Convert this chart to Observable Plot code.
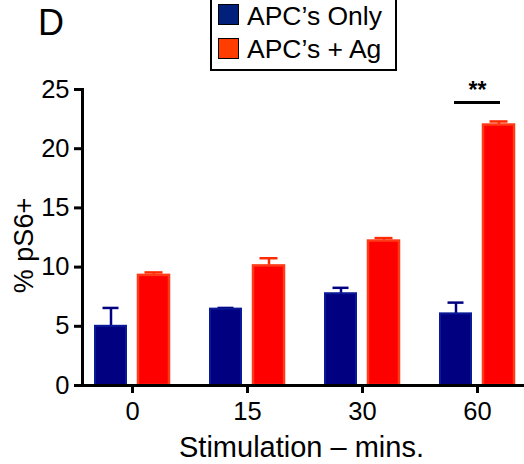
<!DOCTYPE html>
<html>
<head>
<meta charset="utf-8">
<script src="https://cdn.jsdelivr.net/npm/d3@7"></script>
<script src="https://cdn.jsdelivr.net/npm/@observablehq/plot@0.6"></script>
<style>
  html, body { margin: 0; padding: 0; background: #fff; }
  #wrap { position: relative; width: 524px; height: 464px; overflow: hidden; font-family: "Liberation Sans", Arial, sans-serif; color: #000; }
  #chart { position: absolute; left: 0; top: 0; }
  .abs { position: absolute; line-height: 1; white-space: nowrap; }
  .sw { position: absolute; width: 19px; height: 19px; border: 1.5px solid #000; }
</style>
</head>
<body>
<div id="wrap">
  <div id="chart"></div>
  <div class="abs" style="left:38px; top:5px; font-size:36px;">D</div>
  <div class="abs" id="legend" style="left:210px; top:-6px; width:183px; height:73px; border:2px solid #000; background:#fff;"></div>
</div>
<script>
// ---- data ----
const times = ["0", "15", "30", "60"];
const apcOnly = [5.0, 6.45, 7.75, 6.05];
const apcOnlyErr = [1.55, 0.1, 0.5, 0.95];
const apcAg = [9.3, 10.1, 12.2, 22.0];
const apcAgErr = [0.25, 0.65, 0.25, 0.3];
const yTicks = [0, 5, 10, 15, 20, 25];
const seriesNames = ["APC’s Only", "APC’s + Ag"];
const seriesColors = ["#000080", "#ff0000"];
const legendColors = ["#00207c", "#ff3d00"];
const sigLabel = "**";
const sigTime = "60";
const sigY = 23.9;
const xTitle = "Stimulation – mins.";
const yTitle = "% pS6+";

const only = times.map((t, i) => ({time: t, value: apcOnly[i], err: apcOnlyErr[i]}));
const ag = times.map((t, i) => ({time: t, value: apcAg[i], err: apcAgErr[i]}));

const chart = Plot.plot({
  width: 524,
  height: 464,
  marginTop: 89,
  marginBottom: 79,
  marginLeft: 82,
  marginRight: 0,
  style: {fontFamily: "'Liberation Sans', Arial, sans-serif", color: "#000", background: "transparent"},
  x: {type: "band", domain: times, paddingInner: 0.339, paddingOuter: 0.091, align: 0.57, axis: null},
  y: {domain: [0, 25], axis: null},
  marks: [
    // error stems
    Plot.ruleX(only, {x: "time", y1: "value", y2: d => d.value + d.err, dx: -21.5, stroke: "#000080", strokeWidth: 2.5}),
    Plot.ruleX(ag, {x: "time", y1: "value", y2: d => d.value + d.err, dx: 21.5, stroke: "#ff2a00", strokeWidth: 2.5}),
    // caps
    Plot.tickY(only, {x: "time", y: d => d.value + d.err, stroke: "#000080", strokeWidth: 2.5, insetLeft: 8.5, insetRight: 51.5}),
    Plot.tickY(ag, {x: "time", y: d => d.value + d.err, stroke: "#ff2a00", strokeWidth: 2.5, insetLeft: 50.5, insetRight: 7.5}),
    // bars
    Plot.barY(only, {x: "time", y: "value", fill: seriesColors[0], stroke: "#0a1a96", strokeWidth: 2, insetLeft: 1, insetRight: 44}),
    Plot.barY(ag, {x: "time", y: "value", fill: seriesColors[1], stroke: "#ff3a18", strokeWidth: 2.5, insetLeft: 44, insetRight: 1}),
    // significance
    Plot.tickY([{time: sigTime, y: sigY}], {x: "time", y: "y", stroke: "#000", strokeWidth: 3, insetLeft: 15, insetRight: 15}),
    Plot.text([{time: sigTime, y: sigY + 0.35}], {x: "time", y: "y", text: () => sigLabel, lineAnchor: "bottom", fontSize: 23, fontWeight: "bold", fill: "#000"}),
    // axes
    Plot.axisY({ticks: yTicks, tickSize: 8, tickPadding: 5, strokeWidth: 3, fontSize: 25.5, tickFormat: d => String(d), label: null}),
    Plot.axisX({tickSize: 8, tickPadding: 8, strokeWidth: 3, fontSize: 25.5, label: null}),
    Plot.ruleY([0], {stroke: "#000", strokeWidth: 3}),
    Plot.frame({anchor: "left", stroke: "#000", strokeWidth: 3}),
    // titles
    Plot.text([xTitle], {frameAnchor: "bottom", dy: 71, dx: -2, lineAnchor: "bottom", fontSize: 29, fill: "#000", style: "letter-spacing:0.3px"}),
    Plot.text([yTitle], {frameAnchor: "left", textAnchor: "middle", dx: -50, dy: 8, rotate: -90, lineAnchor: "bottom", fontSize: 27, fill: "#000", style: "letter-spacing:1.5px"})
  ]
});
document.getElementById("chart").appendChild(chart);

// legend
const legend = document.getElementById("legend");
seriesNames.forEach((name, i) => {
  const sw = document.createElement("div");
  sw.className = "sw";
  sw.style.left = "6px";
  sw.style.top = (i === 0 ? 8 : 42) + "px";
  sw.style.background = legendColors[i];
  legend.appendChild(sw);
  const tx = document.createElement("div");
  tx.className = "abs";
  tx.style.left = "35px";
  tx.style.top = (i === 0 ? 7 : 40) + "px";
  tx.style.fontSize = "26.5px";
  tx.textContent = name;
  legend.appendChild(tx);
});
</script>
</body>
</html>
